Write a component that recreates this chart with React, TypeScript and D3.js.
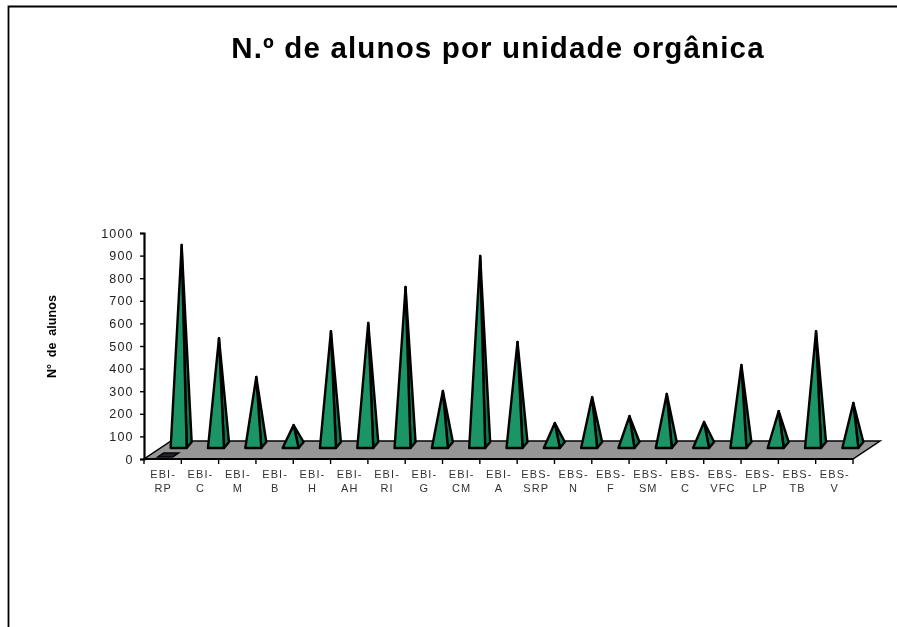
import React, { useEffect, useRef } from 'react'
import * as d3 from 'd3'

const categories = ['EBI-RP', 'EBI-C', 'EBI-M', 'EBI-B', 'EBI-H', 'EBI-AH', 'EBI-RI', 'EBI-G', 'EBI-CM', 'EBI-A',
  'EBS-SRP', 'EBS-N', 'EBS-F', 'EBS-SM', 'EBS-C', 'EBS-VFC', 'EBS-LP', 'EBS-TB', 'EBS-V']
const alunos = [885, 473, 301, 88, 504, 540, 699, 239, 836, 456, 97, 212, 128, 226, 102, 354, 150, 504, 186]
const outros = [8]
const yTicks = [0, 100, 200, 300, 400, 500, 600, 700, 800, 900, 1000]

const width = 897
const height = 627
const font = '"Liberation Sans", Arial, sans-serif'

// 3d floor offset
const depthX = 27
const depthY = 18

export default function App() {
  const ref = useRef<SVGSVGElement>(null)

  useEffect(() => {
    const root = d3.select(ref.current)
    root.selectAll('*').remove()

    // the source is a soft, rescaled screenshot
    root.append('defs').append('filter').attr('id', 'soft')
      .attr('filterUnits', 'userSpaceOnUse')
      .attr('x', 0).attr('y', 0)
      .attr('width', width).attr('height', height)
      .append('feGaussianBlur').attr('stdDeviation', 0.55)
    const svg = root.append('g').attr('filter', 'url(#soft)')

    const x = d3.scaleBand<string>().domain(categories).range([144, 853])
    const y = d3.scaleLinear().domain([0, 1000]).range([459, 233])

    // frame
    svg.append('path')
      .attr('d', `M8.5,${height}V6.5H${width}`)
      .attr('fill', 'none').attr('stroke', '#000').attr('stroke-width', 1.8)

    svg.append('text')
      .attr('x', 498).attr('y', 58)
      .attr('text-anchor', 'middle')
      .attr('font-family', font).attr('font-weight', 'bold').attr('font-size', 29.5)
      .attr('letter-spacing', 1.15)
      .attr('fill', '#000')
      .text('N.º de alunos por unidade orgânica')

    svg.append('text')
      .attr('transform', 'translate(56,336.5) rotate(-90)')
      .attr('text-anchor', 'middle')
      .attr('font-family', font).attr('font-weight', 'bold').attr('font-size', 12.5)
      .attr('letter-spacing', 0.1).attr('word-spacing', 3)
      .attr('fill', '#000')
      .text('N° de alunos')

    // floor
    const x0 = x.range()[0]
    const x1 = x.range()[1]
    const y0 = y(0)
    svg.append('polygon')
      .attr('points', [[x0, y0], [x1, y0], [x1 + depthX, y0 - depthY], [x0 + depthX, y0 - depthY]].join(' '))
      .attr('fill', '#969696').attr('stroke', '#000').attr('stroke-width', 1.5)

    // small dark series in the front row
    outros.forEach((v, i) => {
      const cx = x(categories[i])! + x.bandwidth() / 2 + 5
      svg.append('polygon')
        .attr('points', [[cx - 10, y0 - 2], [cx + 5, y0 - 2], [cx + 11, y0 - 6], [cx - 4, y0 - 6]].join(' '))
        .attr('fill', '#223').attr('stroke', '#000').attr('stroke-width', 1.4)
    })

    // pyramids
    const g = svg.append('g').attr('stroke', '#000').attr('stroke-width', 2.4).attr('stroke-linejoin', 'round')
    alunos.forEach((v, i) => {
      const cx = x(categories[i])! + x.bandwidth() / 2 + 16
      const apex = [cx + 3, y(v) - 14]
      const fl = [cx - 8, y0 - 11]
      const fr = [cx + 8, y0 - 11]
      const br = [cx + 13, y0 - 17]
      g.append('polygon').attr('points', [fr, br, apex].join(' ')).attr('fill', '#0e7a54')
      g.append('polygon').attr('points', [fl, fr, apex].join(' ')).attr('fill', '#1a9566')
    })

    // y axis
    const yAxis = svg.append('g')
      .attr('transform', `translate(${x0},0)`)
      .call(d3.axisLeft(y).tickValues(yTicks).tickSize(4).tickPadding(6.5).tickFormat(d3.format('d')))
    yAxis.select('.domain').attr('stroke', '#000').attr('stroke-width', 2.2)
    yAxis.selectAll('line').attr('stroke', '#000').attr('stroke-width', 1.4)
    yAxis.selectAll('text')
      .attr('font-family', font).attr('font-size', 12.5).attr('letter-spacing', 1.1).attr('fill', '#222')

    // x axis
    const xAxis = svg.append('g').attr('transform', `translate(0,${y0})`)
    xAxis.append('line').attr('x1', x0).attr('x2', x1).attr('stroke', '#000').attr('stroke-width', 2.2)
    d3.range(categories.length + 1).forEach((i) => {
      const tx = x0 + i * x.step()
      xAxis.append('line').attr('x1', tx).attr('x2', tx).attr('y1', 0).attr('y2', 5)
        .attr('stroke', '#000').attr('stroke-width', 1.4)
    })
    categories.forEach((c) => {
      const parts = c.split('-')
      const t = xAxis.append('text')
        .attr('text-anchor', 'middle')
        .attr('font-family', font).attr('font-size', 11).attr('letter-spacing', 1.1).attr('fill', '#333')
      const cx = x(c)! + x.bandwidth() / 2 + 0.5
      t.append('tspan').attr('x', cx).attr('y', 19).text(parts[0] + '-')
      t.append('tspan').attr('x', cx).attr('y', 33).text(parts[1])
    })
  }, [])

  return (
    <svg
      ref={ref}
      width={width}
      height={height}
      style={{ position: 'absolute', left: 0, top: 0, background: '#fff' }}
    />
  )
}
